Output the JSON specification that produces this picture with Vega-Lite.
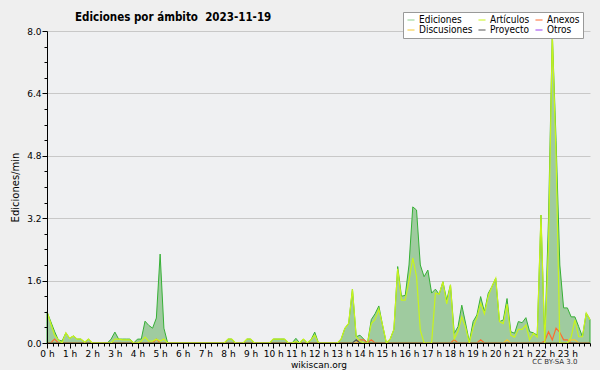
{
"$schema": "https://vega.github.io/schema/vega-lite/v6.json",
"width": 543, "height": 312,
"autosize": {"type": "none"},
"padding": {"left": 47, "top": 31, "right": 10, "bottom": 27},
"background": "#efefef",
"config": {"font": "DejaVu Sans", "view": {"fill": "#eff0f2", "stroke": null}},
"title": {"text": "Ediciones por ámbito\u00a0 2023-11-19", "anchor": "start", "frame": "group", "dx": 28, "dy": 19, "offset": 7, "fontSize": 11.5, "fontWeight": "bold", "font": "DejaVu Sans Condensed", "color": "#000"},
"data": {"values": [
{"t":0,"Ediciones":0.8,"Artículos":0.8,"Anexos":0,"Discusiones":0,"Proyecto":0},
{"t":10,"Ediciones":0.55,"Artículos":0.5,"Anexos":0,"Discusiones":0,"Proyecto":0},
{"t":20,"Ediciones":0.3,"Artículos":0.2,"Anexos":0.1,"Discusiones":0,"Proyecto":0},
{"t":30,"Ediciones":0.08,"Artículos":0.08,"Anexos":0,"Discusiones":0,"Proyecto":0},
{"t":40,"Ediciones":0.05,"Artículos":0,"Anexos":0,"Discusiones":0,"Proyecto":0},
{"t":50,"Ediciones":0.26,"Artículos":0.26,"Anexos":0,"Discusiones":0,"Proyecto":0},
{"t":60,"Ediciones":0.12,"Artículos":0.12,"Anexos":0,"Discusiones":0,"Proyecto":0},
{"t":70,"Ediciones":0.18,"Artículos":0.18,"Anexos":0,"Discusiones":0,"Proyecto":0},
{"t":80,"Ediciones":0.1,"Artículos":0.1,"Anexos":0,"Discusiones":0,"Proyecto":0},
{"t":90,"Ediciones":0.1,"Artículos":0.1,"Anexos":0,"Discusiones":0,"Proyecto":0},
{"t":100,"Ediciones":0.02,"Artículos":0.02,"Anexos":0,"Discusiones":0,"Proyecto":0},
{"t":110,"Ediciones":0.1,"Artículos":0.1,"Anexos":0,"Discusiones":0,"Proyecto":0},
{"t":120,"Ediciones":0,"Artículos":0,"Anexos":0,"Discusiones":0,"Proyecto":0},
{"t":130,"Ediciones":0,"Artículos":0,"Anexos":0,"Discusiones":0,"Proyecto":0},
{"t":140,"Ediciones":0,"Artículos":0,"Anexos":0,"Discusiones":0,"Proyecto":0},
{"t":150,"Ediciones":0,"Artículos":0,"Anexos":0,"Discusiones":0,"Proyecto":0},
{"t":160,"Ediciones":0,"Artículos":0,"Anexos":0,"Discusiones":0,"Proyecto":0},
{"t":170,"Ediciones":0.1,"Artículos":0,"Anexos":0,"Discusiones":0,"Proyecto":0},
{"t":180,"Ediciones":0.28,"Artículos":0.1,"Anexos":0,"Discusiones":0,"Proyecto":0},
{"t":190,"Ediciones":0.1,"Artículos":0.1,"Anexos":0,"Discusiones":0,"Proyecto":0},
{"t":200,"Ediciones":0.1,"Artículos":0.08,"Anexos":0,"Discusiones":0,"Proyecto":0},
{"t":210,"Ediciones":0.1,"Artículos":0.08,"Anexos":0,"Discusiones":0,"Proyecto":0},
{"t":220,"Ediciones":0.1,"Artículos":0.08,"Anexos":0,"Discusiones":0,"Proyecto":0},
{"t":230,"Ediciones":0,"Artículos":0,"Anexos":0,"Discusiones":0,"Proyecto":0},
{"t":240,"Ediciones":0.1,"Artículos":0,"Anexos":0,"Discusiones":0,"Proyecto":0},
{"t":250,"Ediciones":0.1,"Artículos":0.05,"Anexos":0,"Discusiones":0,"Proyecto":0},
{"t":260,"Ediciones":0.56,"Artículos":0.15,"Anexos":0,"Discusiones":0,"Proyecto":0},
{"t":270,"Ediciones":0.45,"Artículos":0.05,"Anexos":0,"Discusiones":0,"Proyecto":0},
{"t":280,"Ediciones":0.38,"Artículos":0.05,"Anexos":0,"Discusiones":0,"Proyecto":0},
{"t":290,"Ediciones":0.64,"Artículos":0.1,"Anexos":0.1,"Discusiones":0,"Proyecto":0},
{"t":300,"Ediciones":2.28,"Artículos":0.05,"Anexos":0,"Discusiones":0,"Proyecto":0},
{"t":310,"Ediciones":0.38,"Artículos":0.1,"Anexos":0,"Discusiones":0,"Proyecto":0},
{"t":320,"Ediciones":0,"Artículos":0,"Anexos":0,"Discusiones":0,"Proyecto":0},
{"t":330,"Ediciones":0,"Artículos":0,"Anexos":0,"Discusiones":0,"Proyecto":0},
{"t":340,"Ediciones":0,"Artículos":0,"Anexos":0,"Discusiones":0,"Proyecto":0},
{"t":350,"Ediciones":0,"Artículos":0,"Anexos":0,"Discusiones":0,"Proyecto":0},
{"t":360,"Ediciones":0,"Artículos":0,"Anexos":0,"Discusiones":0,"Proyecto":0},
{"t":370,"Ediciones":0,"Artículos":0,"Anexos":0,"Discusiones":0,"Proyecto":0},
{"t":380,"Ediciones":0,"Artículos":0,"Anexos":0,"Discusiones":0,"Proyecto":0},
{"t":390,"Ediciones":0,"Artículos":0,"Anexos":0,"Discusiones":0,"Proyecto":0},
{"t":400,"Ediciones":0,"Artículos":0,"Anexos":0,"Discusiones":0,"Proyecto":0},
{"t":410,"Ediciones":0,"Artículos":0,"Anexos":0,"Discusiones":0,"Proyecto":0},
{"t":420,"Ediciones":0,"Artículos":0,"Anexos":0,"Discusiones":0,"Proyecto":0},
{"t":430,"Ediciones":0,"Artículos":0,"Anexos":0,"Discusiones":0,"Proyecto":0},
{"t":440,"Ediciones":0,"Artículos":0,"Anexos":0,"Discusiones":0,"Proyecto":0},
{"t":450,"Ediciones":0,"Artículos":0,"Anexos":0,"Discusiones":0,"Proyecto":0},
{"t":460,"Ediciones":0,"Artículos":0,"Anexos":0,"Discusiones":0,"Proyecto":0},
{"t":470,"Ediciones":0,"Artículos":0,"Anexos":0,"Discusiones":0,"Proyecto":0},
{"t":480,"Ediciones":0.1,"Artículos":0.1,"Anexos":0,"Discusiones":0,"Proyecto":0},
{"t":490,"Ediciones":0.1,"Artículos":0.1,"Anexos":0,"Discusiones":0,"Proyecto":0},
{"t":500,"Ediciones":0,"Artículos":0,"Anexos":0,"Discusiones":0,"Proyecto":0},
{"t":510,"Ediciones":0,"Artículos":0,"Anexos":0,"Discusiones":0,"Proyecto":0},
{"t":520,"Ediciones":0,"Artículos":0,"Anexos":0,"Discusiones":0,"Proyecto":0},
{"t":530,"Ediciones":0.1,"Artículos":0.1,"Anexos":0,"Discusiones":0,"Proyecto":0},
{"t":540,"Ediciones":0.1,"Artículos":0.1,"Anexos":0,"Discusiones":0,"Proyecto":0},
{"t":550,"Ediciones":0,"Artículos":0,"Anexos":0,"Discusiones":0,"Proyecto":0},
{"t":560,"Ediciones":0,"Artículos":0,"Anexos":0,"Discusiones":0,"Proyecto":0},
{"t":570,"Ediciones":0,"Artículos":0,"Anexos":0,"Discusiones":0,"Proyecto":0},
{"t":580,"Ediciones":0,"Artículos":0,"Anexos":0,"Discusiones":0,"Proyecto":0},
{"t":590,"Ediciones":0,"Artículos":0,"Anexos":0,"Discusiones":0,"Proyecto":0},
{"t":600,"Ediciones":0.1,"Artículos":0.1,"Anexos":0,"Discusiones":0,"Proyecto":0},
{"t":610,"Ediciones":0.1,"Artículos":0.1,"Anexos":0,"Discusiones":0,"Proyecto":0},
{"t":620,"Ediciones":0.1,"Artículos":0.1,"Anexos":0,"Discusiones":0,"Proyecto":0},
{"t":630,"Ediciones":0.1,"Artículos":0.1,"Anexos":0,"Discusiones":0,"Proyecto":0},
{"t":640,"Ediciones":0,"Artículos":0,"Anexos":0,"Discusiones":0,"Proyecto":0},
{"t":650,"Ediciones":0,"Artículos":0,"Anexos":0,"Discusiones":0,"Proyecto":0},
{"t":660,"Ediciones":0.12,"Artículos":0.04,"Anexos":0,"Discusiones":0,"Proyecto":0},
{"t":670,"Ediciones":0,"Artículos":0,"Anexos":0,"Discusiones":0,"Proyecto":0},
{"t":680,"Ediciones":0.1,"Artículos":0.1,"Anexos":0,"Discusiones":0,"Proyecto":0},
{"t":690,"Ediciones":0,"Artículos":0,"Anexos":0,"Discusiones":0,"Proyecto":0},
{"t":700,"Ediciones":0.08,"Artículos":0.08,"Anexos":0,"Discusiones":0,"Proyecto":0},
{"t":710,"Ediciones":0.28,"Artículos":0.2,"Anexos":0,"Discusiones":0,"Proyecto":0},
{"t":720,"Ediciones":0,"Artículos":0,"Anexos":0,"Discusiones":0,"Proyecto":0},
{"t":730,"Ediciones":0,"Artículos":0,"Anexos":0,"Discusiones":0,"Proyecto":0},
{"t":740,"Ediciones":0,"Artículos":0,"Anexos":0,"Discusiones":0,"Proyecto":0},
{"t":750,"Ediciones":0,"Artículos":0,"Anexos":0,"Discusiones":0,"Proyecto":0},
{"t":760,"Ediciones":0,"Artículos":0,"Anexos":0,"Discusiones":0,"Proyecto":0},
{"t":770,"Ediciones":0,"Artículos":0,"Anexos":0,"Discusiones":0,"Proyecto":0},
{"t":780,"Ediciones":0.1,"Artículos":0.1,"Anexos":0,"Discusiones":0,"Proyecto":0},
{"t":790,"Ediciones":0.38,"Artículos":0.38,"Anexos":0,"Discusiones":0,"Proyecto":0},
{"t":800,"Ediciones":0.5,"Artículos":0.5,"Anexos":0,"Discusiones":0,"Proyecto":0},
{"t":810,"Ediciones":1.38,"Artículos":1.38,"Anexos":0,"Discusiones":0,"Proyecto":0},
{"t":820,"Ediciones":0.16,"Artículos":0.16,"Anexos":0,"Discusiones":0,"Proyecto":0.08},
{"t":830,"Ediciones":0.2,"Artículos":0.05,"Anexos":0.08,"Discusiones":0,"Proyecto":0},
{"t":840,"Ediciones":0.1,"Artículos":0,"Anexos":0.08,"Discusiones":0,"Proyecto":0},
{"t":850,"Ediciones":0,"Artículos":0,"Anexos":0,"Discusiones":0,"Proyecto":0},
{"t":860,"Ediciones":0.6,"Artículos":0.5,"Anexos":0.08,"Discusiones":0,"Proyecto":0},
{"t":870,"Ediciones":0.75,"Artículos":0.6,"Anexos":0,"Discusiones":0,"Proyecto":0},
{"t":880,"Ediciones":0.95,"Artículos":0.87,"Anexos":0,"Discusiones":0,"Proyecto":0},
{"t":890,"Ediciones":0.45,"Artículos":0.45,"Anexos":0,"Discusiones":0,"Proyecto":0},
{"t":900,"Ediciones":0,"Artículos":0,"Anexos":0,"Discusiones":0,"Proyecto":0},
{"t":910,"Ediciones":0.1,"Artículos":0.1,"Anexos":0,"Discusiones":0,"Proyecto":0},
{"t":920,"Ediciones":0.35,"Artículos":0.35,"Anexos":0,"Discusiones":0,"Proyecto":0},
{"t":930,"Ediciones":1.96,"Artículos":1.9,"Anexos":0,"Discusiones":0,"Proyecto":0},
{"t":940,"Ediciones":1.2,"Artículos":1.1,"Anexos":0,"Discusiones":0,"Proyecto":0},
{"t":950,"Ediciones":1.22,"Artículos":1.1,"Anexos":0,"Discusiones":0,"Proyecto":0},
{"t":960,"Ediciones":2.0,"Artículos":1.6,"Anexos":0,"Discusiones":0,"Proyecto":0},
{"t":970,"Ediciones":3.49,"Artículos":2.18,"Anexos":0,"Discusiones":0,"Proyecto":0},
{"t":980,"Ediciones":3.41,"Artículos":1.7,"Anexos":0,"Discusiones":0,"Proyecto":0},
{"t":990,"Ediciones":2.0,"Artículos":0.33,"Anexos":0,"Discusiones":0,"Proyecto":0},
{"t":1000,"Ediciones":1.7,"Artículos":0,"Anexos":0,"Discusiones":0,"Proyecto":0},
{"t":1010,"Ediciones":1.87,"Artículos":0,"Anexos":0,"Discusiones":0,"Proyecto":0},
{"t":1020,"Ediciones":1.28,"Artículos":0,"Anexos":0,"Discusiones":0,"Proyecto":0},
{"t":1030,"Ediciones":1.38,"Artículos":1.28,"Anexos":0,"Discusiones":0,"Proyecto":0},
{"t":1040,"Ediciones":1.25,"Artículos":1.25,"Anexos":0,"Discusiones":0,"Proyecto":0},
{"t":1050,"Ediciones":1.57,"Artículos":1.57,"Anexos":0,"Discusiones":0,"Proyecto":0},
{"t":1060,"Ediciones":1.1,"Artículos":1.0,"Anexos":0,"Discusiones":0,"Proyecto":0},
{"t":1070,"Ediciones":1.49,"Artículos":1.49,"Anexos":0,"Discusiones":0,"Proyecto":0},
{"t":1080,"Ediciones":0.25,"Artículos":0.1,"Anexos":0.08,"Discusiones":0,"Proyecto":0},
{"t":1090,"Ediciones":0.42,"Artículos":0.3,"Anexos":0,"Discusiones":0,"Proyecto":0},
{"t":1100,"Ediciones":0.97,"Artículos":0.67,"Anexos":0,"Discusiones":0,"Proyecto":0},
{"t":1110,"Ediciones":0.51,"Artículos":0.4,"Anexos":0,"Discusiones":0,"Proyecto":0},
{"t":1120,"Ediciones":0.03,"Artículos":0,"Anexos":0,"Discusiones":0,"Proyecto":0},
{"t":1130,"Ediciones":0.55,"Artículos":0.4,"Anexos":0,"Discusiones":0,"Proyecto":0},
{"t":1140,"Ediciones":0.72,"Artículos":0.65,"Anexos":0,"Discusiones":0,"Proyecto":0},
{"t":1150,"Ediciones":1.19,"Artículos":1.02,"Anexos":0.08,"Discusiones":0,"Proyecto":0},
{"t":1160,"Ediciones":0.8,"Artículos":0.75,"Anexos":0,"Discusiones":0,"Proyecto":0},
{"t":1170,"Ediciones":1.27,"Artículos":1.2,"Anexos":0,"Discusiones":0,"Proyecto":0},
{"t":1180,"Ediciones":1.45,"Artículos":1.45,"Anexos":0,"Discusiones":0,"Proyecto":0},
{"t":1190,"Ediciones":1.66,"Artículos":1.66,"Anexos":0,"Discusiones":0,"Proyecto":0},
{"t":1200,"Ediciones":0.55,"Artículos":0.55,"Anexos":0,"Discusiones":0,"Proyecto":0},
{"t":1210,"Ediciones":0.59,"Artículos":0.5,"Anexos":0,"Discusiones":0,"Proyecto":0},
{"t":1220,"Ediciones":1.14,"Artículos":1.0,"Anexos":0,"Discusiones":0.08,"Proyecto":0},
{"t":1230,"Ediciones":0.29,"Artículos":0.2,"Anexos":0,"Discusiones":0,"Proyecto":0},
{"t":1240,"Ediciones":0.25,"Artículos":0.15,"Anexos":0,"Discusiones":0,"Proyecto":0},
{"t":1250,"Ediciones":0.55,"Artículos":0.35,"Anexos":0,"Discusiones":0,"Proyecto":0},
{"t":1260,"Ediciones":0.52,"Artículos":0.35,"Anexos":0,"Discusiones":0,"Proyecto":0},
{"t":1270,"Ediciones":0.65,"Artículos":0.46,"Anexos":0,"Discusiones":0,"Proyecto":0},
{"t":1280,"Ediciones":0.29,"Artículos":0.08,"Anexos":0,"Discusiones":0,"Proyecto":0},
{"t":1290,"Ediciones":0.26,"Artículos":0.25,"Anexos":0,"Discusiones":0,"Proyecto":0},
{"t":1300,"Ediciones":0.2,"Artículos":0.15,"Anexos":0,"Discusiones":0,"Proyecto":0},
{"t":1310,"Ediciones":3.28,"Artículos":3.28,"Anexos":0,"Discusiones":0,"Proyecto":0},
{"t":1320,"Ediciones":0.05,"Artículos":0,"Anexos":0.05,"Discusiones":0,"Proyecto":0},
{"t":1330,"Ediciones":3.2,"Artículos":2.5,"Anexos":0.29,"Discusiones":0,"Proyecto":0},
{"t":1340,"Ediciones":7.95,"Artículos":7.9,"Anexos":0.08,"Discusiones":0,"Proyecto":0},
{"t":1350,"Ediciones":5.2,"Artículos":4.8,"Anexos":0.38,"Discusiones":0,"Proyecto":0},
{"t":1360,"Ediciones":2.0,"Artículos":0,"Anexos":0.27,"Discusiones":0,"Proyecto":0},
{"t":1370,"Ediciones":0.9,"Artículos":0,"Anexos":0.08,"Discusiones":0,"Proyecto":0},
{"t":1380,"Ediciones":0.9,"Artículos":0,"Anexos":0.08,"Discusiones":0,"Proyecto":0},
{"t":1390,"Ediciones":0.67,"Artículos":0.15,"Anexos":0,"Discusiones":0.08,"Proyecto":0},
{"t":1400,"Ediciones":0.67,"Artículos":0.59,"Anexos":0,"Discusiones":0.08,"Proyecto":0},
{"t":1410,"Ediciones":0.42,"Artículos":0.16,"Anexos":0,"Discusiones":0,"Proyecto":0},
{"t":1420,"Ediciones":0.16,"Artículos":0.16,"Anexos":0,"Discusiones":0,"Proyecto":0},
{"t":1430,"Ediciones":0.77,"Artículos":0.77,"Anexos":0,"Discusiones":0,"Proyecto":0},
{"t":1440,"Ediciones":0.6,"Artículos":0.6,"Anexos":0,"Discusiones":0,"Proyecto":0}
]},
"layer": [
{
"mark": {"type": "area", "fill": "#9fcb9f", "stroke": "#36b036", "strokeWidth": 1, "interpolate": "linear"},
"encoding": {
"x": {"field": "t", "type": "quantitative", "scale": {"domain": [0, 1440], "nice": false, "zero": false},
"axis": {"orient": "bottom", "values": [0,60,120,180,240,300,360,420,480,540,600,660,720,780,840,900,960,1020,1080,1140,1200,1260,1320,1380], "labelExpr": "(datum.value/60) + ' h'", "labelFontSize": 9, "labelColor": "#000", "labelPadding": 1, "labelFlush": false, "labelOverlap": false, "tickColor": "#000", "tickSize": 5, "domainColor": "#000", "grid": false, "zindex": 1, "title": "wikiscan.org", "titleFontSize": 9, "titleFontWeight": "normal", "titleColor": "#000", "titlePadding": 2}},
"y": {"field": "Ediciones", "type": "quantitative", "scale": {"domain": [0, 8], "nice": false},
"axis": {"orient": "left", "values": [0, 1.6, 3.2, 4.8, 6.4, 8], "format": ".1f", "labelFontSize": 9, "labelColor": "#000", "labelPadding": 1, "tickColor": "#000", "tickSize": 5, "domainColor": "#000", "grid": false, "zindex": 1, "title": "Ediciones/min", "titleFontSize": 10, "titleFontWeight": "normal", "titleColor": "#000", "titlePadding": 6}}
}
},
{
"transform": [{"fold": ["Anexos", "Discusiones", "Proyecto", "Artículos"], "as": ["serie", "v"]}],
"mark": {"type": "line", "strokeWidth": 1.2, "interpolate": "linear"},
"encoding": {
"x": {"field": "t", "type": "quantitative",
"axis": {"orient": "bottom", "values": [0,15,30,45,60,75,90,105,120,135,150,165,180,195,210,225,240,255,270,285,300,315,330,345,360,375,390,405,420,435,450,465,480,495,510,525,540,555,570,585,600,615,630,645,660,675,690,705,720,735,750,765,780,795,810,825,840,855,870,885,900,915,930,945,960,975,990,1005,1020,1035,1050,1065,1080,1095,1110,1125,1140,1155,1170,1185,1200,1215,1230,1245,1260,1275,1290,1305,1320,1335,1350,1365,1380,1395,1410,1425,1440], "labels": false, "domain": false, "grid": false, "tickColor": "#000", "tickSize": 3, "title": null, "zindex": 1}},
"y": {"field": "v", "type": "quantitative",
"axis": {"orient": "left", "values": [0.4,0.8,1.2,2.0,2.4,2.8,3.6,4.0,4.4,5.2,5.6,6.0,6.8,7.2,7.6], "labels": false, "domain": false, "grid": false, "tickColor": "#000", "tickSize": 3, "title": null, "zindex": 1}},
"color": {"field": "serie", "type": "nominal",
"scale": {"domain": ["Ediciones", "Artículos", "Anexos", "Discusiones", "Proyecto", "Otros"], "range": ["#8fd08f", "#c8f41c", "#ff6a30", "#f5c832", "#555555", "#9a40f0"]},
"legend": {"orient": "none", "legendX": 356, "legendY": -19, "direction": "horizontal", "columns": 3, "gridAlign": "each", "title": null, "symbolType": "stroke", "symbolSize": 50, "symbolStrokeWidth": 1, "labelFontSize": 10, "labelFont": "DejaVu Sans Condensed", "labelColor": "#000", "labelOffset": 3, "fillColor": "#ffffff", "strokeColor": "#999999", "padding": 3, "rowPadding": 0, "columnPadding": 3}}
}
},
{
"data": {"values": [{"lic": "CC BY-SA 3.0", "t": 1347, "v": -0.49}]},
"mark": {"type": "text", "fontSize": 7, "color": "#333333"},
"encoding": {
"x": {"field": "t", "type": "quantitative", "axis": null},
"y": {"field": "v", "type": "quantitative",
"axis": {"orient": "left", "values": [1.6, 3.2, 4.8, 6.4, 8], "labels": false, "ticks": false, "domain": false, "grid": true, "gridColor": "#c8c8c8", "title": null, "zindex": 0}},
"text": {"field": "lic"}
}
}
],
"resolve": {"axis": {"x": "independent", "y": "independent"}}
}
